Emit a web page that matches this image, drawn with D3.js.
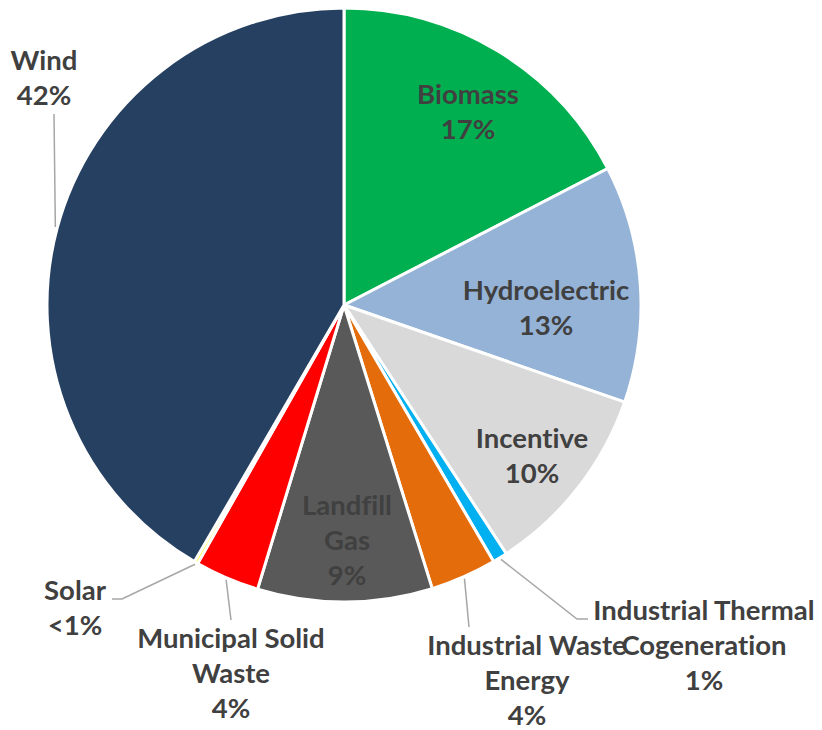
<!DOCTYPE html>
<html><head><meta charset="utf-8">
<script src="https://cdn.jsdelivr.net/npm/d3@7"></script>
<style>
html,body{margin:0;padding:0;background:#fff;}
svg text{font-family:Lato, "Open Sans", sans-serif;font-weight:bold;fill:#404040;font-variant-ligatures:none;font-feature-settings:"liga" 0;}
</style></head>
<body>
<svg id="chart" width="822" height="730"></svg>
<script>
// ---- data ----
const categories = ["Biomass","Hydroelectric","Incentive","Industrial Thermal Cogeneration","Industrial Waste Energy","Landfill Gas","Municipal Solid Waste","Solar","Wind"];
const values = [17.4, 12.9, 10.5, 0.8, 3.6, 9.5, 3.5, 0.2, 41.6];
const percentLabels = ["17%","13%","10%","1%","4%","9%","4%","<1%","42%"];
const labelLines = [["Biomass"],["Hydroelectric"],["Incentive"],["Industrial Thermal","Cogeneration"],["Industrial Waste","Energy"],["Landfill","Gas"],["Municipal Solid","Waste"],["Solar"],["Wind"]];
const colors = ["#00B050","#95B3D7","#D9D9D9","#00B0F0","#E46C0A","#595959","#FF0000","#FFFF00","#254061"];

// ---- layout (label positions: center x, first baseline) ----
const labelLayout = [
  {x:468, y:104},
  {x:546, y:300},
  {x:532, y:448},
  {x:704, y:620, leader:[[577,619],[588,619]]},
  {x:527, y:655, leader:[[469,627]]},
  {x:347, y:515},
  {x:231, y:648, leader:[[231,620]]},
  {x:75,  y:600, leader:[[122,599],[112,599]]},
  {x:44,  y:70,  leader:[[54,114]]}
];
const lineH = 35;

const svg = d3.select("#chart");
const cx = 344, cy = 305, R = 297;
const g = svg.append("g").attr("transform", `translate(${cx},${cy})`);

const data = categories.map((c,i)=>({name:c, value:values[i], i}));
const pie = d3.pie().sort(null).value(d=>d.value);
const arcs = pie(data);
const arc = d3.arc().innerRadius(0).outerRadius(R);

g.selectAll("path.slice").data(arcs).join("path")
  .attr("class","slice")
  .attr("d", arc)
  .attr("fill", d=>colors[d.data.i])
  .attr("stroke","#fff")
  .attr("stroke-width",3)
  .attr("stroke-linejoin","round");

// leader lines
arcs.forEach(d=>{
  const L = labelLayout[d.data.i];
  if(!L.leader) return;
  const a = (d.startAngle + d.endAngle)/2;
  const p0 = [cx + (R+2)*Math.sin(a), cy - (R+2)*Math.cos(a)];
  const pts = [p0, ...L.leader];
  svg.append("path")
    .attr("d", d3.line()(pts))
    .attr("fill","none")
    .attr("stroke","#A6A6A6")
    .attr("stroke-width",1.5);
});

// labels
arcs.forEach(d=>{
  const i = d.data.i;
  const L = labelLayout[i];
  const lines = labelLines[i].concat([percentLabels[i]]);
  const t = svg.append("text")
    .attr("text-anchor","middle")
    .attr("font-size", 27.5);
  lines.forEach((ln,k)=>{
    t.append("tspan").attr("x", L.x).attr("y", L.y + k*lineH).text(ln);
  });
});
</script>
</body></html>
